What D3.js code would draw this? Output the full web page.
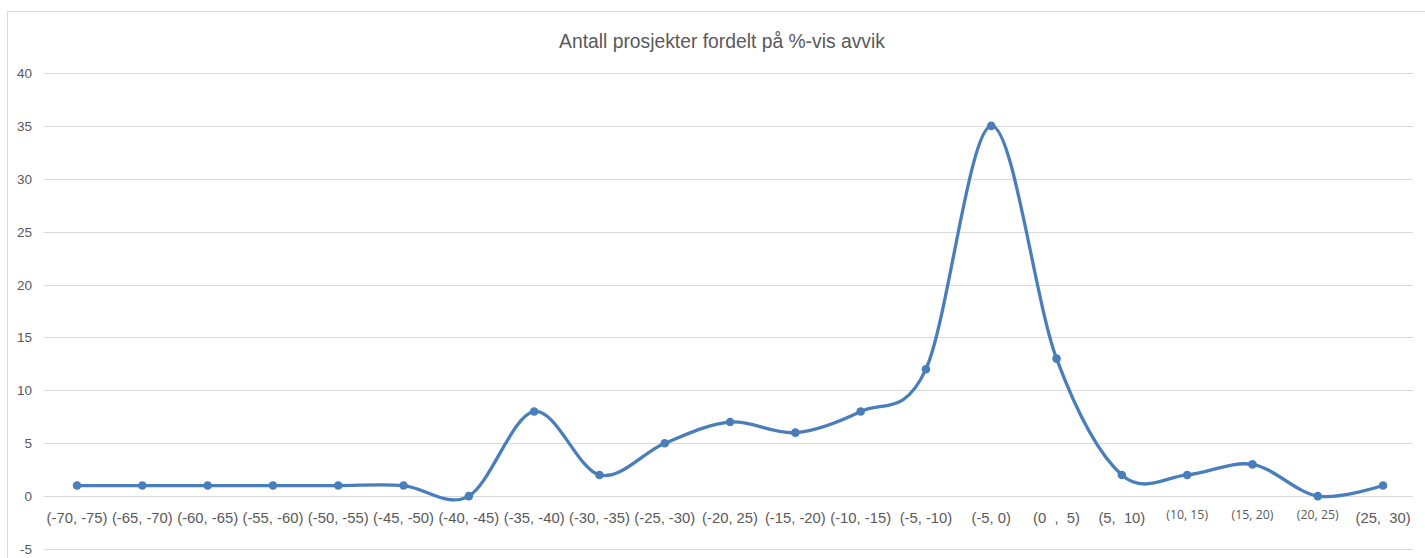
<!DOCTYPE html>
<html>
<head>
<meta charset="utf-8">
<script src="https://cdn.jsdelivr.net/npm/d3@7"></script>
<style>
  body { margin: 0; background: #fff; }
  svg { display: block; font-family: "Liberation Sans", Arial, sans-serif; }
</style>
</head>
<body>
<div id="chart"></div>
<script>
// data
let categories = ['(-70, -75)', '(-65, -70)', '(-60, -65)', '(-55, -60)', '(-50, -55)', '(-45, -50)',
    '(-40, -45)', '(-35, -40)', '(-30, -35)', '(-25, -30)', '(-20, 25)', '(-15, -20)', '(-10, -15)',
    '(-5, -10)', '(-5, 0)', '(0  ,  5)', '(5,  10)', '(10, 15)', '(15, 20)', '(20, 25)', '(25,  30)'];
let counts = [1, 1, 1, 1, 1, 1, 0, 8, 2, 5, 7, 6, 8, 12, 35, 13, 2, 2, 3, 0, 1];
let yTicks = [-5, 0, 5, 10, 15, 20, 25, 30, 35, 40];
// these three labels use a different (narrower) font in the original
let oddLabels = ['(10, 15)', '(15, 20)', '(20, 25)'];

let width = 1425;
let height = 558;

let svg = d3.select('#chart')
    .append('svg')
    .attr('width', width)
    .attr('height', height);

// chart area border (cut off at right and bottom)
svg.append('rect')
    .attr('x', 7.5)
    .attr('y', 11.5)
    .attr('width', 1430)
    .attr('height', 560)
    .attr('fill', 'none')
    .attr('stroke', '#d9d9d9')
    .attr('stroke-width', 1);

let x = d3.scaleBand()
    .domain(categories)
    .range([44.4, 1415.7]);

let y = d3.scaleLinear()
    .domain([-5, 40])
    .range([549, 73]);

let cx = d => x(d) + x.bandwidth() / 2;

// gridlines
svg.append('g')
    .selectAll('line')
    .data(yTicks)
    .enter()
    .append('line')
    .attr('x1', 44)
    .attr('x2', 1413)
    .attr('y1', d => Math.round(y(d)) + 0.5)
    .attr('y2', d => Math.round(y(d)) + 0.5)
    .attr('stroke', '#d9d9d9')
    .attr('stroke-width', 1);

// y axis labels
svg.append('g')
    .selectAll('text')
    .data(yTicks)
    .enter()
    .append('text')
    .text(d => d)
    .attr('x', 32)
    .attr('y', d => y(d) + 5)
    .attr('text-anchor', 'end')
    .style('font-size', '13.5px')
    .style('fill', '#595959');

// x axis labels
svg.append('g')
    .selectAll('text')
    .data(categories)
    .enter()
    .append('text')
    .text(d => d)
    .attr('x', d => cx(d))
    .attr('y', d => oddLabels.includes(d) ? 519 : 523)
    .attr('text-anchor', 'middle')
    .attr('xml:space', 'preserve')
    .style('font-family', d => oddLabels.includes(d) ? '"Open Sans", "DejaVu Sans", sans-serif' : null)
    .style('font-size', d => oddLabels.includes(d) ? '12.3px' : '14.8px')
    .style('fill', '#595959');

// title
svg.append('text')
    .text('Antall prosjekter fordelt på %-vis avvik')
    .attr('x', 722)
    .attr('y', 48)
    .attr('text-anchor', 'middle')
    .style('font-size', '19.3px')
    .style('fill', '#595959');

let points = categories.map((c, i) => ({ cat: c, value: counts[i] }));

let line = d3.line()
    .x(d => cx(d.cat))
    .y(d => y(d.value))
    .curve(d3.curveCardinal.tension(0));

svg.append('path')
    .datum(points)
    .attr('d', line)
    .attr('fill', 'none')
    .attr('stroke', '#4a7ebb')
    .attr('stroke-width', 3.3)
    .attr('stroke-linejoin', 'round');

svg.append('g')
    .selectAll('circle')
    .data(points)
    .enter()
    .append('circle')
    .attr('cx', d => cx(d.cat))
    .attr('cy', d => y(d.value))
    .attr('r', 4.3)
    .attr('fill', '#4a7ebb');
</script>
</body>
</html>
